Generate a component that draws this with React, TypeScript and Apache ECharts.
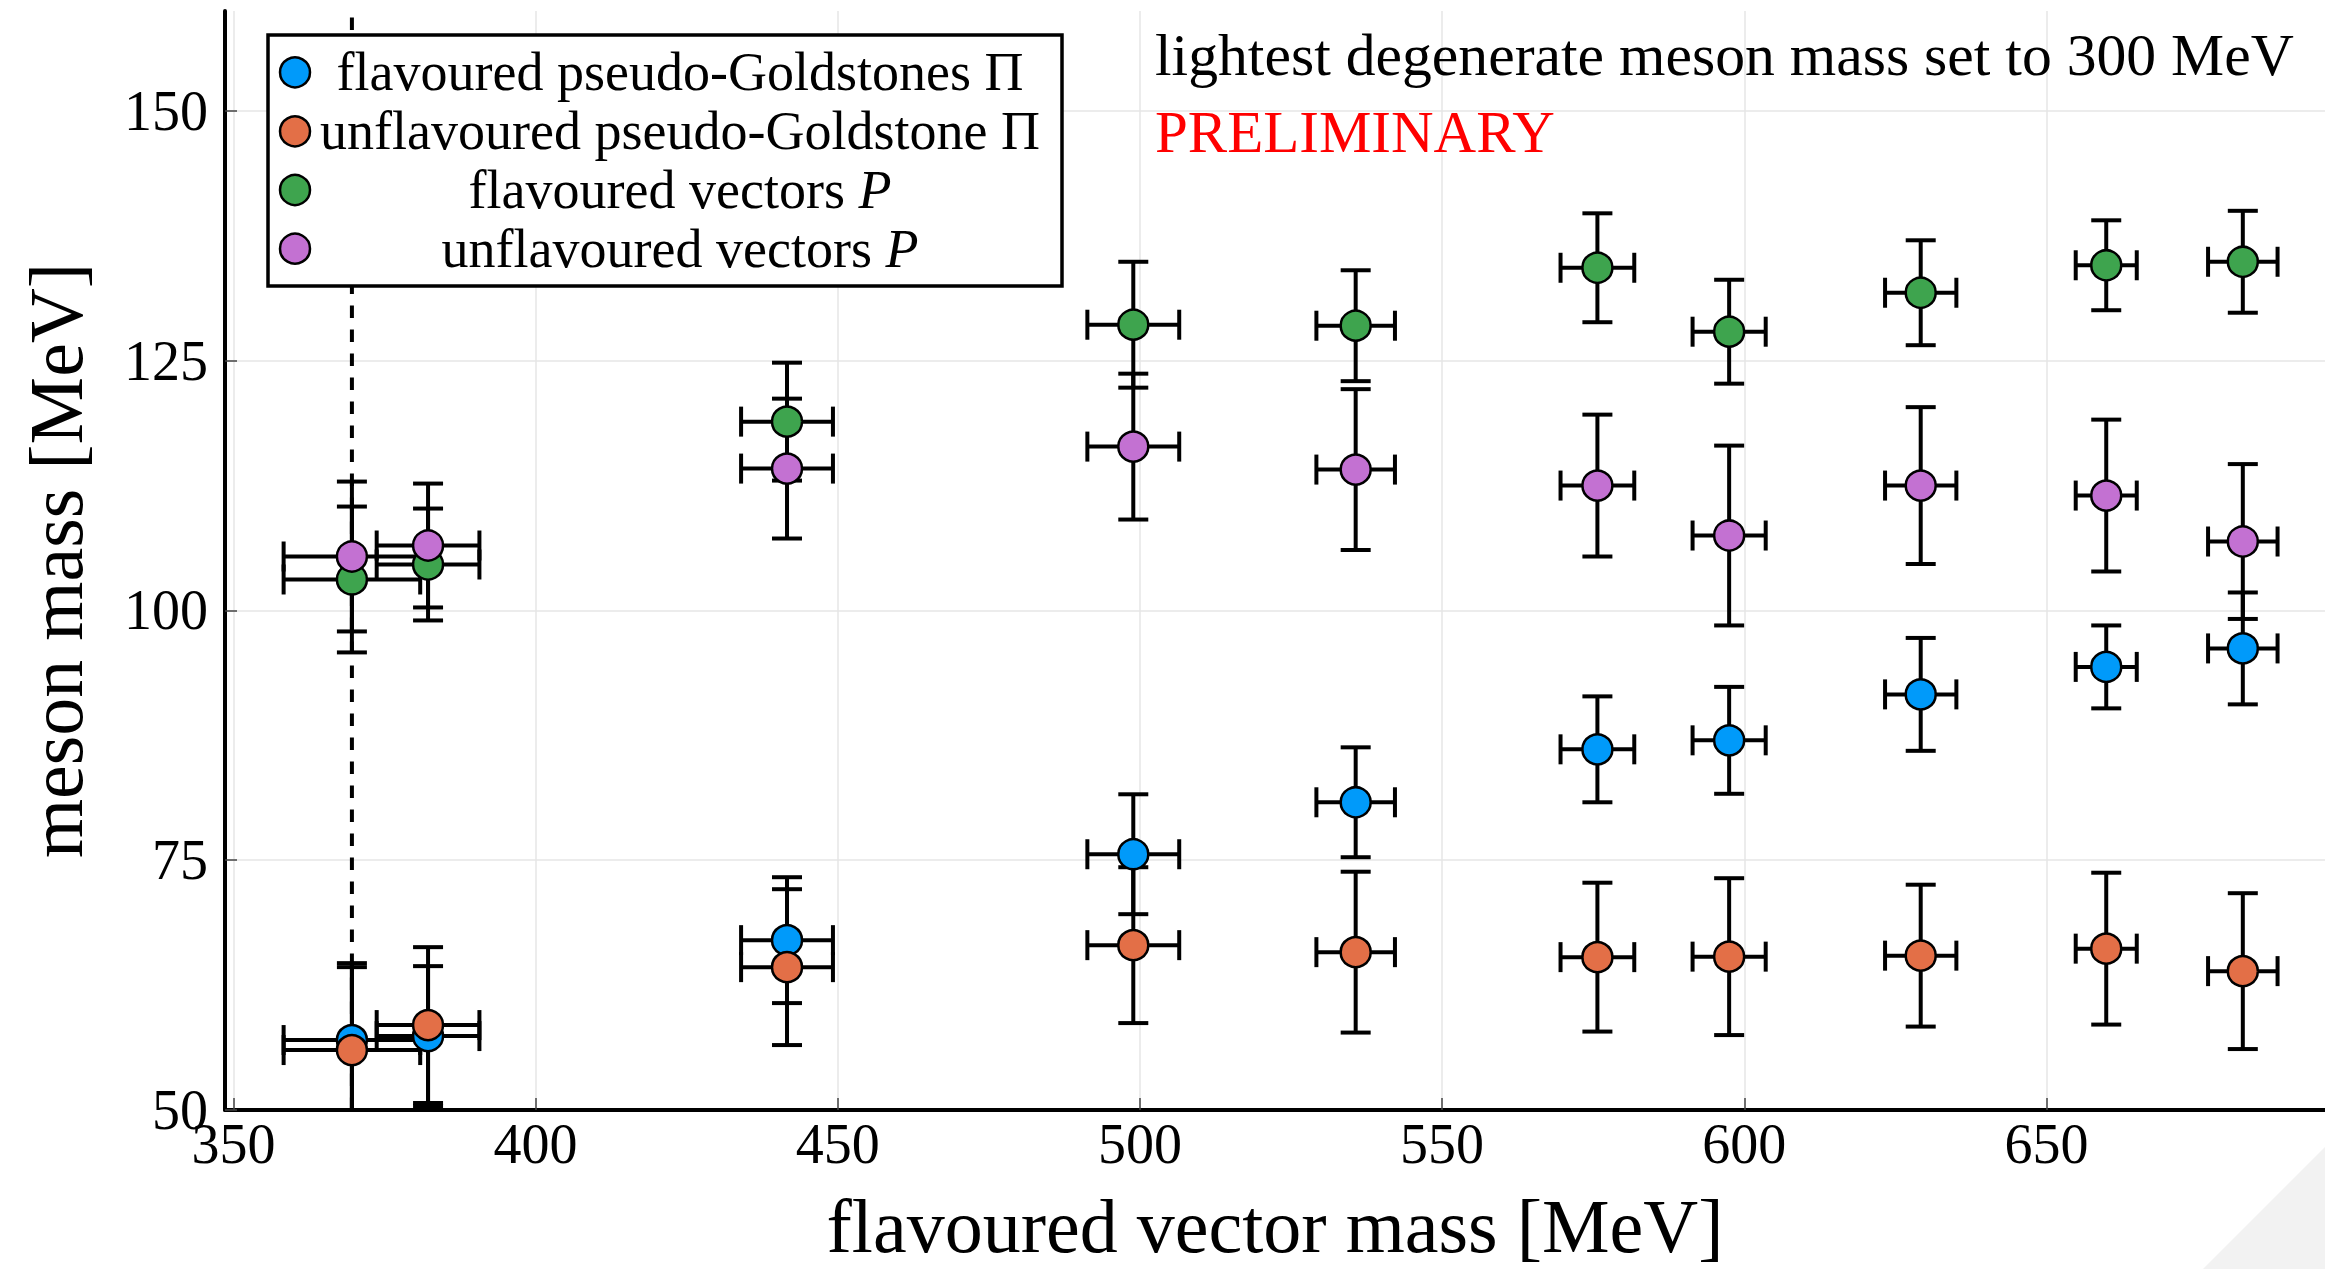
import React, { useEffect, useRef } from "react";
import * as echarts from "echarts";

// ---- data ----
const xVals = [369.6, 382.2, 441.6, 498.9, 535.7, 575.7, 597.5, 629.2, 659.9, 682.5];
const xErr = [11.3, 8.5, 7.6, 7.6, 6.5, 6.1, 6.05, 5.9, 5.05, 5.75];

const flavPS = [57.0, 57.4, 67.0, 75.6, 80.8, 86.1, 87.0, 91.6, 94.35, 96.2];
const flavPSErr = [7.7, 7.0, 6.3, 6.0, 5.5, 5.3, 5.35, 5.65, 4.15, 5.6];

const unflavPS = [56.0, 58.5, 64.3, 66.5, 65.8, 65.3, 65.35, 65.45, 66.15, 63.9];
const unflavPSErr = [8.3, 7.8, 7.8, 7.8, 8.05, 7.45, 7.85, 7.1, 7.6, 7.8];

const flavV = [103.1, 104.6, 118.9, 128.6, 128.5, 134.3, 127.9, 131.8, 134.55, 134.9];
const flavVErr = [7.3, 5.6, 5.9, 6.3, 5.55, 5.45, 5.2, 5.25, 4.5, 5.1];

const unflavV = [105.4, 106.5, 114.2, 116.4, 114.1, 112.5, 107.5, 112.5, 111.5, 106.9];
const unflavVErr = [7.5, 6.2, 7.0, 7.3, 8.05, 7.1, 9.0, 7.85, 7.6, 7.75];

const xTicks = [350, 400, 450, 500, 550, 600, 650];
const yTicks = [50, 75, 100, 125, 150];
const xRange = [348.6, 696.1];
const yRange = [50, 160];
const dashedX = 369.6;

const seriesNames = [
  "flavoured pseudo-Goldstones Π",
  "unflavoured pseudo-Goldstone Π",
  "flavoured vectors P",
  "unflavoured vectors P",
];
const colors = ["#009AFA", "#E36F47", "#3EA44E", "#C371D2"];

const annotation = "lightest degenerate meson mass set to 300 MeV";
const prelim = "PRELIMINARY";
const xTitle = "flavoured vector mass [MeV]";
const yTitle = "meson mass [MeV]";

const FONT = '"Liberation Serif", "DejaVu Serif", serif';

const groups = [
  { y: flavPS, e: flavPSErr },
  { y: unflavPS, e: unflavPSErr },
  { y: flavV, e: flavVErr },
  { y: unflavV, e: unflavVErr },
];

function errRender(params: any, api: any) {
  const x = api.value(0);
  const y = api.value(1);
  const ex = api.value(2);
  const ey = api.value(3);
  const cs = params.coordSys;
  const top = cs.y;
  const bottom = cs.y + cs.height;
  const c = api.coord([x, y]);
  const yHi = api.coord([x, y + ey])[1];
  const yLo = api.coord([x, y - ey])[1];
  const xLo = api.coord([x - ex, y])[0];
  const xHi = api.coord([x + ex, y])[0];
  const cap = 15;
  const style = { stroke: "#000", lineWidth: 4 };
  const children: any[] = [];
  children.push({
    type: "line",
    shape: { x1: c[0], y1: Math.max(yHi, top), x2: c[0], y2: Math.min(yLo, bottom) },
    style,
  });
  if (yHi >= top)
    children.push({ type: "line", shape: { x1: c[0] - cap, y1: yHi, x2: c[0] + cap, y2: yHi }, style });
  if (yLo <= bottom)
    children.push({ type: "line", shape: { x1: c[0] - cap, y1: yLo, x2: c[0] + cap, y2: yLo }, style });
  children.push({ type: "line", shape: { x1: xLo, y1: c[1], x2: xHi, y2: c[1] }, style });
  children.push({ type: "line", shape: { x1: xLo, y1: c[1] - cap, x2: xLo, y2: c[1] + cap }, style });
  children.push({ type: "line", shape: { x1: xHi, y1: c[1] - cap, x2: xHi, y2: c[1] + cap }, style });
  return { type: "group", children };
}

export default function App() {
  const ref = useRef<HTMLDivElement>(null);
  useEffect(() => {
    if (!ref.current) return;
    const chart = echarts.init(ref.current, null, { renderer: "svg" });

    const series: any[] = [
      {
        type: "line",
        name: "dashed",
        data: [
          [dashedX, yRange[0]],
          [dashedX, yRange[1]],
        ],
        symbol: "none",
        lineStyle: { color: "#000", width: 4, type: [12.5, 11.5] },
        silent: true,
        z: 1,
      },
    ];
    groups.forEach((g, i) => {
      series.push({
        type: "custom",
        name: seriesNames[i] + " err",
        renderItem: errRender,
        encode: { x: 0, y: 1 },
        data: xVals.map((x, k) => [x, g.y[k], xErr[k], g.e[k]]),
        silent: true,
        z: 2,
      });
      series.push({
        type: "scatter",
        name: seriesNames[i],
        data: xVals.map((x, k) => [x, g.y[k]]),
        symbol: "circle",
        symbolSize: 30,
        itemStyle: { color: colors[i], borderColor: "#000", borderWidth: 2.5, opacity: 1 },
        z: 2,
      });
    });

    const legendRows = [72.3, 131.3, 190, 248.7];
    const legendText = [
      { text: "{n|flavoured pseudo-Goldstones Π}" },
      { text: "{n|unflavoured pseudo-Goldstone Π}" },
      { text: "{n|flavoured vectors }{i|P}" },
      { text: "{n|unflavoured vectors }{i|P}" },
    ];
    const rich = {
      n: { fontSize: 54, fontFamily: FONT, fill: "#000" },
      i: { fontSize: 54, fontFamily: FONT, fontStyle: "italic", fill: "#000" },
    };

    const graphic: any[] = [
      {
        type: "polygon",
        shape: { points: [[2325, 1147], [2203, 1269], [2325, 1269]] },
        style: { fill: "#f2f2f2" },
        z: 0,
        silent: true,
      },
      {
        type: "rect",
        shape: { x: 268, y: 35, width: 794, height: 251 },
        style: { fill: "#fff", stroke: "#000", lineWidth: 3.5 },
        z: 100,
      },
      {
        type: "text",
        x: 1155,
        y: 55,
        style: { text: annotation, font: `59.7px ${FONT}`, fill: "#000", align: "left", verticalAlign: "middle" },
        z: 100,
      },
      {
        type: "text",
        x: 1155,
        y: 132,
        style: { text: prelim, font: `59px ${FONT}`, fill: "#ff0000", align: "left", verticalAlign: "middle" },
        z: 100,
      },
    ];
    legendRows.forEach((ry, i) => {
      graphic.push({
        type: "circle",
        shape: { cx: 295, cy: ry, r: 15 },
        style: { fill: colors[i], stroke: "#000", lineWidth: 2.5 },
        z: 101,
      });
      graphic.push({
        type: "text",
        x: 680,
        y: ry,
        style: {
          text: legendText[i].text,
          rich,
          align: "center",
          verticalAlign: "middle",
        },
        z: 101,
      });
    });

    chart.setOption({
      animation: false,
      backgroundColor: "#fff",
      grid: { left: 225, right: 0, top: 11, bottom: 158.5, containLabel: false },
      xAxis: {
        type: "value",
        min: xRange[0],
        max: xRange[1],
        name: xTitle,
        nameLocation: "middle",
        nameGap: 78,
        nameTextStyle: { fontSize: 76, fontFamily: FONT, color: "#000" },
        axisLine: { show: true, onZero: false, lineStyle: { color: "#000", width: 4 } },
        axisTick: { show: true, inside: true, length: 12, lineStyle: { color: "#444", width: 1.5 }, customValues: xTicks },
        axisLabel: {
          show: true,
          margin: 6,
          fontSize: 56,
          fontFamily: FONT,
          color: "#000",
          customValues: xTicks,
        },
        splitLine: { show: true, lineStyle: { color: "#e6e6e6", width: 1.5 } },
      },
      yAxis: {
        type: "value",
        min: yRange[0],
        max: yRange[1],
        name: yTitle,
        nameLocation: "middle",
        nameGap: 131,
        nameTextStyle: { fontSize: 76, fontFamily: FONT, color: "#000" },
        axisLine: { show: true, onZero: false, lineStyle: { color: "#000", width: 4 } },
        axisTick: { show: true, inside: true, length: 12, lineStyle: { color: "#444", width: 1.5 }, customValues: yTicks },
        axisLabel: {
          show: true,
          margin: 17,
          fontSize: 56,
          fontFamily: FONT,
          color: "#000",
          customValues: yTicks,
        },
        splitLine: { show: true, lineStyle: { color: "#e6e6e6", width: 1.5 } },
      },
      legend: { show: false },
      series,
      graphic,
    });

    return () => chart.dispose();
  }, []);

  return (
    <div
      ref={ref}
      style={{ position: "fixed", left: 0, top: 0, width: 2325, height: 1269, background: "#fff" }}
    />
  );
}
